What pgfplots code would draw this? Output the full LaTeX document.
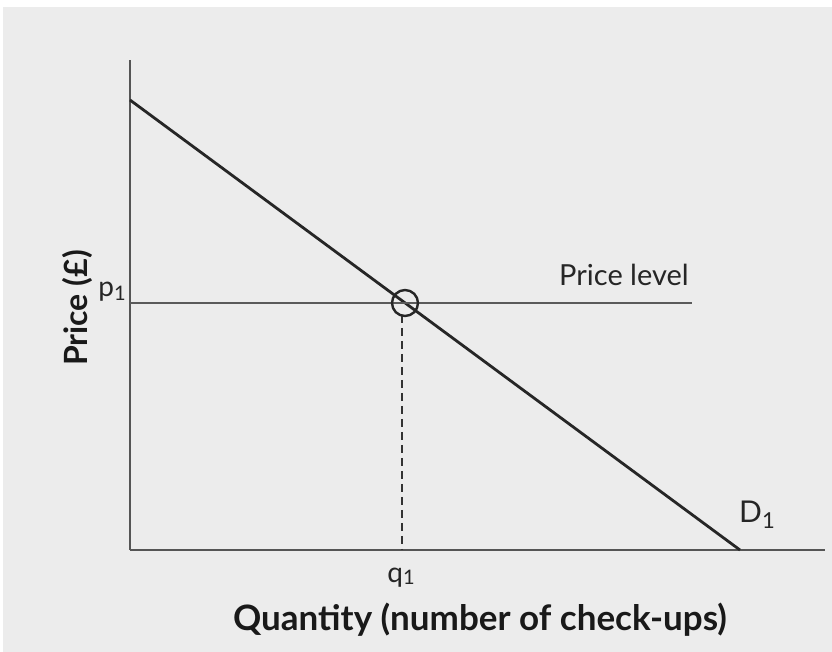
\documentclass[border=0pt]{standalone}
\usepackage{pgfplots}
\pgfplotsset{compat=1.18}
\usepackage{fontspec}
\setmainfont{Lato}
\usetikzlibrary{backgrounds}

\definecolor{bgpanel}{HTML}{ECECEC}
\definecolor{axisgray}{HTML}{555555}
\definecolor{lvlgray}{HTML}{5A5A5A}

\begin{document}
\begin{tikzpicture}
\begin{axis}[
    scale only axis,
    width=347.5pt, height=245pt,
    xmin=0, xmax=695, ymin=0, ymax=490,
    axis lines=left,
    axis line style={-, draw=axisgray, line width=1.3pt},
    ticks=none,
    clip=false,
]
% demand curve D1
\addplot[draw=black!85, line width=1.4pt] coordinates {(0,450) (610,0)};
% price level
\addplot[draw=lvlgray, line width=1.3pt] coordinates {(0,247) (562,247)};
% dashed drop to q1
\addplot[draw=black!80, line width=0.9pt, dash pattern=on 4pt off 2.5pt]
    coordinates {(272,235) (272,0)};
% equilibrium point
\addplot[only marks, mark=o, mark size=6.5pt,
    mark options={draw=black!85, fill=bgpanel, line width=1.2pt}]
    coordinates {(275,247)};

\node[font=\fontsize{14.5}{16}\selectfont, text=black!85] at (axis cs:494,275) {Price level};
\node[font=\fontsize{15}{17}\selectfont, text=black!85] at (axis cs:627,35) {D\raisebox{-3pt}{\fontsize{11}{12}\selectfont 1}};
\node[font=\fontsize{14}{16}\selectfont, text=black!85] at (axis cs:-18,258) {p\raisebox{-2pt}{\fontsize{10}{11}\selectfont 1}};
\node[font=\fontsize{14}{16}\selectfont, text=black!85] at (axis cs:271,-28) {q\raisebox{-1pt}{\fontsize{10}{11}\selectfont 1}};
\node[font=\fontsize{16}{18}\selectfont\bfseries, text=black!90, rotate=90] at (axis cs:-53,242) {Price (£)};
\node[font=\fontsize{17.5}{20}\selectfont\bfseries, text=black!90] at (axis cs:350,-70) {Quantity (number of check-ups)};

\coordinate (bgbl) at (axis cs:-127,-102);
\coordinate (bgtr) at (axis cs:702,543);
\coordinate (pgbl) at (axis cs:-130,-102);
\coordinate (pgtr) at (axis cs:702,550);
\end{axis}
\begin{scope}[on background layer]
  \fill[white] (pgbl) rectangle (pgtr);
  \fill[bgpanel] (bgbl) rectangle (bgtr);
\end{scope}
\useasboundingbox (pgbl) rectangle (pgtr);
\end{tikzpicture}
\end{document}
